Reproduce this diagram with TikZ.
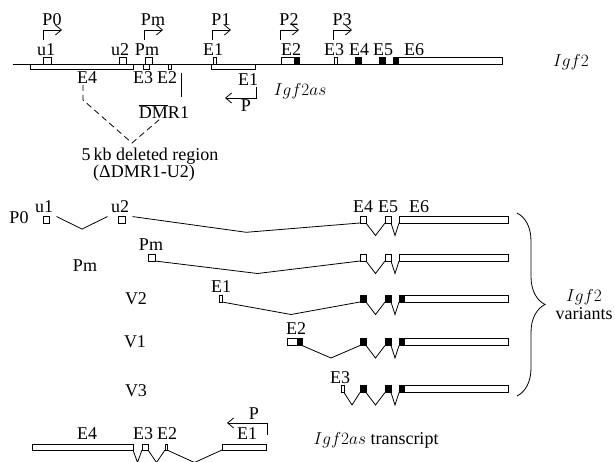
\documentclass[tikz,border=0pt]{standalone}
\usepackage{fontspec}
\setmainfont{Liberation Serif}
\usetikzlibrary{arrows.meta,calc,decorations.pathreplacing}
\begin{document}
\begin{tikzpicture}[x=1pt, y=-1pt,
  font=\fontsize{18}{20}\selectfont,
  exon/.style={rectangle, draw, fill=white, line width=0.8pt, inner sep=0pt,
               outer sep=0pt, minimum width=6pt, minimum height=7pt},
  asexon/.style={exon, minimum height=5pt},
  darkl/.style={path picture={\fill[black] (path picture bounding box.north west)
               rectangle ([xshift=6pt]path picture bounding box.south west);}},
  darkr/.style={path picture={\fill[black] ([xshift=-5pt]path picture bounding box.north east)
               rectangle (path picture bounding box.south east);}},
  prom/.style={-{Straight Barb[length=6pt,width=10pt]}, line width=0.8pt},
  intron/.style={line width=0.8pt},
  deleted/.style={dashed, dash pattern=on 6pt off 4pt, line width=0.8pt}
]
  \useasboundingbox (0,0) rectangle (615,462);

  % Igf2 / Igf2as locus
  \coordinate (lstart) at (13,64);
  \node[exon, minimum width=8pt] (tu1) at (47,60.5) {};
  \node[exon, minimum width=7pt] (tu2) at (123,60.5) {};
  \node[exon, minimum width=7pt] (tpm) at (148.5,60.5) {};
  \node[exon, minimum width=3pt] (te1) at (214.5,60.5) {};
  \node[exon, minimum width=18pt, darkr] (te2) at (290,60.5) {};
  \node[exon, minimum width=2.5pt] (te3) at (336,60.5) {};
  \node[exon, fill=black] (te4) at (358,60.5) {};
  \node[exon, fill=black] (te5) at (382,60.5) {};
  \node[exon, minimum width=109pt, darkl] (te6) at (447.5,60.5) {};
  \draw[intron] (lstart) -- (te6.south west);
  \node[asexon, minimum width=103pt] (ae4) at (81.5,66.5) {};
  \node[asexon, minimum width=6pt] (ae3) at (146,66.5) {};
  \node[asexon, minimum width=3pt] (ae2) at (169.5,66.5) {};
  \node[asexon, minimum width=44pt] (ae1) at (233,66.5) {};

  \foreach \n/\x in {u1/46, u2/120, Pm/147, E1/213, E2/291, E3/334, E4/359, E5/383, E6/414}
    \node (top\n) at (\x,50) {\n};
  \foreach \n/\x in {E4/87, E3/143, E2/167}
    \node (as\n) at (\x,78) {\n};
  \node (asE1) at (248,80) {E1};

  % Promoters
  \foreach \n/\x in {P0/43, Pm/144, P1/212, P2/280, P3/333} {
    \coordinate (\n-base) at (\x,40);
    \draw[prom] (\n-base) |- ++(19,-10);
    \node (\n-lab) at (\x+9,20) {\n};
  }
  \coordinate (asp) at (256,87);
  \draw[prom] (asp) |- ++(-31,11);
  \node (asP) at (246,106) {P};

  \node (igf2) at (571,62) {$Igf2$};
  \node (igf2as) at (300,91) {$Igf2as$};

  % DMR1 and deletion
  \coordinate (dmrtop) at (181,73);
  \draw[intron] (dmrtop) -- ++(0,24);
  \node (dmr) at (164,112) {$\overline{\mbox{DM}}$R1};
  \coordinate (dl) at (83,85);
  \coordinate (dr) at (160,119);
  \coordinate (apex) at (132,143);
  \draw[deleted] (dl) -- ++(0,15) -- (apex) -- (dr);
  \node (del1) at (150,156) {5\,kb deleted region};
  \node (del2) at (144,173) {(ΔDMR1-U2)};

  % Igf2 variants
  \node (rP0) at (19,218) {P0};
  \node (rPm) at (85,266) {Pm};
  \node (rV2) at (136,299) {V2};
  \node (rV1) at (135,342) {V1};
  \node (rV3) at (136,391) {V3};

  \node[exon] (p0u1) at (46,219.5) {};
  \node[exon, minimum width=7pt] (p0u2) at (121.5,219.5) {};
  \node[exon, minimum width=7pt] (pmpm) at (151.5,257.5) {};
  \node[exon, minimum width=3pt] (v2e1) at (220.5,298.5) {};
  \node[exon, minimum width=15pt, darkr] (v1e2) at (294.5,342) {};
  \node[exon, minimum width=3pt] (v3e3) at (342.5,389) {};

  \foreach \r/\y/\f/\s in {p0/219.5/white/exon, pm/257.5/white/exon,
      v2/298.5/black/darkl, v1/342/black/darkl, v3/389/black/darkl} {
    \node[exon, fill=\f] (\r e4) at (363,\y) {};
    \node[exon, fill=\f] (\r e5) at (388,\y) {};
    \node[exon, \s, minimum width=109pt] (\r e6) at (453.5,\y) {};
  }

  \foreach \n/\x/\y in {u1/44/207, u2/120/207, E4/363/207, E5/388/207, E6/419/207}
    \node (p0\n) at (\x,\y) {\n};
  \node (pmlab) at (151,245) {Pm};
  \node (v2lab) at (221,287) {E1};
  \node (v1lab) at (296,329) {E2};
  \node (v3lab) at (340,378) {E3};

  % Igf2as transcript
  \node[exon, minimum width=101pt, minimum height=6pt] (be4) at (82.5,447) {};
  \node[exon, minimum width=6pt, minimum height=6pt] (be3) at (145,447) {};
  \node[exon, minimum width=2pt, minimum height=6pt] (be2) at (166,447) {};
  \node[exon, minimum width=44pt, minimum height=6pt] (be1) at (244,447) {};
  \foreach \n/\x in {E4/87, E3/143, E2/167, E1/247}
    \node (bt\n) at (\x,434) {\n};
  \coordinate (bp) at (267,435);
  \draw[prom] (bp) |- ++(-40,-12);
  \node (btP) at (254,414) {P};
  \node (btname) at (376,440) {$Igf2as$ transcript};

  % Splicing
  \foreach \a/\b in {p0u1/p0u2, p0u2/p0e4, pmpm/pme4, v2e1/v2e4, v1e2/v1e4, v3e3/v3e4,
      p0e4/p0e5, p0e5/p0e6, pme4/pme5, pme5/pme6, v2e4/v2e5, v2e5/v2e6,
      v1e4/v1e5, v1e5/v1e6, v3e4/v3e5, v3e5/v3e6, be4/be3, be3/be2, be2/be1}
    \draw[intron] (\a.south east) -- ($(\a.south east)!0.5!(\b.south west)+(0,12.5)$)
      -- (\b.south west);

  \coordinate (btop) at (517,213);
  \coordinate (bbot) at (517,396);
  \draw[intron, decorate, decoration={brace, amplitude=28pt, aspect=0.5}] (btop) -- (bbot);
  \node[inner sep=1pt] (varI) at (584,297) {$Igf2$};
  \node[inner sep=1pt, anchor=north] (varT) at (584,306) {variants};
\end{tikzpicture}
\end{document}
